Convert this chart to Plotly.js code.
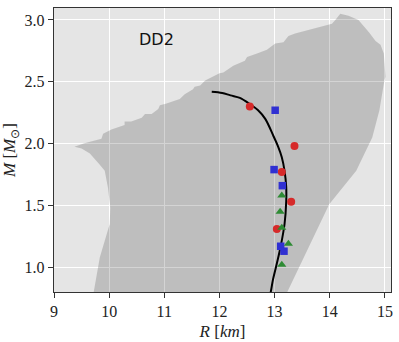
<!DOCTYPE html>
<html>
<head>
<meta charset="utf-8">
<script src="https://cdn.plot.ly/plotly-3.0.1.min.js"></script>
<style>
  html, body { margin: 0; padding: 0; background: #fff; }
  #chart { width: 399px; height: 342px; }
</style>
</head>
<body>
<div id="chart"></div>
<script>
// allowed region (grey band)
const regionR = [9.72, 9.83, 10.01, 10.02, 9.98, 9.92, 9.83, 9.65, 9.5, 9.37,
  9.55, 9.68, 9.86, 9.89, 9.98, 10.04, 10.28, 10.28, 10.40, 10.59, 10.65, 10.77,
  10.89, 10.92, 11.04, 11.28, 11.37, 11.52, 11.55, 11.65, 11.74, 11.83, 12.0,
  12.07, 12.25, 12.46, 12.5, 12.68, 12.86, 13.01, 13.16, 13.25, 13.37, 13.61,
  13.86, 14.04, 14.1, 14.19, 14.34, 14.52, 14.71, 14.83, 14.92, 14.98, 15.01,
  14.99, 14.9, 14.77, 14.48, 13.99, 13.23, 13.1, 9.68];
const regionM = [0.8, 1.08, 1.35, 1.48, 1.64, 1.78, 1.83, 1.92, 1.96, 1.975,
  2.003, 2.016, 2.04, 2.08, 2.10, 2.115, 2.15, 2.178, 2.178, 2.21, 2.24, 2.24,
  2.28, 2.31, 2.325, 2.36, 2.40, 2.44, 2.46, 2.47, 2.51, 2.53, 2.57,
  2.575, 2.63, 2.67, 2.70, 2.73, 2.76, 2.81, 2.82, 2.87, 2.89, 2.92,
  2.95, 2.97, 3.0, 3.05, 3.035, 3.0, 2.9, 2.83, 2.80, 2.73, 2.54,
  2.51, 2.27, 2.05, 1.78, 1.51, 0.8, 0.7, 0.7];

// DD2 mass-radius curve
const curveR = [11.86, 12.05, 12.2, 12.37, 12.55, 12.7, 12.83, 12.98, 13.06, 13.13,
  13.18, 13.21, 13.21, 13.18, 13.11, 13.04, 12.97, 12.93, 12.9];
const curveM = [2.42, 2.41, 2.39, 2.37, 2.32, 2.27, 2.2, 2.06, 1.98, 1.89,
  1.78, 1.65, 1.53, 1.35, 1.17, 1.03, 0.9, 0.8, 0.75];

// sample points
const redR = [12.55, 13.36, 13.13, 13.30, 13.04];
const redM = [2.30, 1.98, 1.77, 1.53, 1.31];
const blueR = [13.01, 12.99, 13.14, 13.11, 13.17];
const blueM = [2.27, 1.79, 1.66, 1.17, 1.13];
const greenR = [13.13, 13.10, 13.13, 13.25, 13.13];
const greenM = [1.58, 1.45, 1.32, 1.19, 1.02];

const xTicks = [9, 10, 11, 12, 13, 14, 15];
const yTicks = [1.0, 1.5, 2.0, 2.5, 3.0];

const serif = "Liberation Serif";

const traces = [
  {
    x: regionR, y: regionM, type: 'scatter', mode: 'lines',
    fill: 'toself', fillcolor: 'rgba(0,0,0,0.17)',
    line: {width: 0, color: 'rgba(0,0,0,0)'}, hoverinfo: 'skip'
  },
  {
    x: curveR, y: curveM, type: 'scatter', mode: 'lines',
    line: {color: '#000', width: 2, shape: 'spline'}
  },
  {
    x: redR, y: redM, type: 'scatter', mode: 'markers',
    marker: {symbol: 'circle', size: 8, color: '#d62a2a'}
  },
  {
    x: blueR, y: blueM, type: 'scatter', mode: 'markers',
    marker: {symbol: 'square', size: 7.5, color: '#3030d2'}
  },
  {
    x: greenR, y: greenM, type: 'scatter', mode: 'markers',
    marker: {symbol: 'triangle-up', size: 8, color: '#2e8b34'}
  }
];

const layout = {
  width: 399, height: 342,
  margin: {l: 54, r: 8, t: 8, b: 50},
  paper_bgcolor: '#fff',
  plot_bgcolor: '#e5e5e5',
  showlegend: false,
  font: {family: serif, size: 16, color: '#222'},
  xaxis: {
    range: [9, 15.11], tickmode: 'array', tickvals: xTicks, ticktext: xTicks.map(String),
    tickfont: {family: serif, size: 16, color: '#222'},
    showgrid: true, gridcolor: '#fff', gridwidth: 1, zeroline: false,
    showline: true, linecolor: '#333', linewidth: 1.2, mirror: true,
    ticks: 'outside', ticklen: 5, tickcolor: '#333',
    title: {text: '<i>R</i> [<i>km</i>]', font: {family: serif, size: 17}, standoff: 5}
  },
  yaxis: {
    range: [0.8, 3.097], tickmode: 'array', tickvals: yTicks, ticktext: yTicks.map(v => v.toFixed(1)),
    tickfont: {family: serif, size: 16, color: '#222'},
    showgrid: true, gridcolor: '#fff', gridwidth: 1, zeroline: false,
    showline: true, linecolor: '#333', linewidth: 1.2, mirror: true,
    ticks: 'outside', ticklen: 5, tickcolor: '#333',
    title: {text: '<i>M</i> [<i>M</i><sub>⊙</sub>]', font: {family: serif, size: 17}, standoff: 6}
  },
  annotations: [{
    x: 10.86, y: 2.84, xref: 'x', yref: 'y', text: 'DD2', showarrow: false,
    font: {family: 'DejaVu Sans', size: 16, color: '#111'}
  }]
};

Plotly.newPlot('chart', traces, layout, {displayModeBar: false, staticPlot: true});
</script>
</body>
</html>
